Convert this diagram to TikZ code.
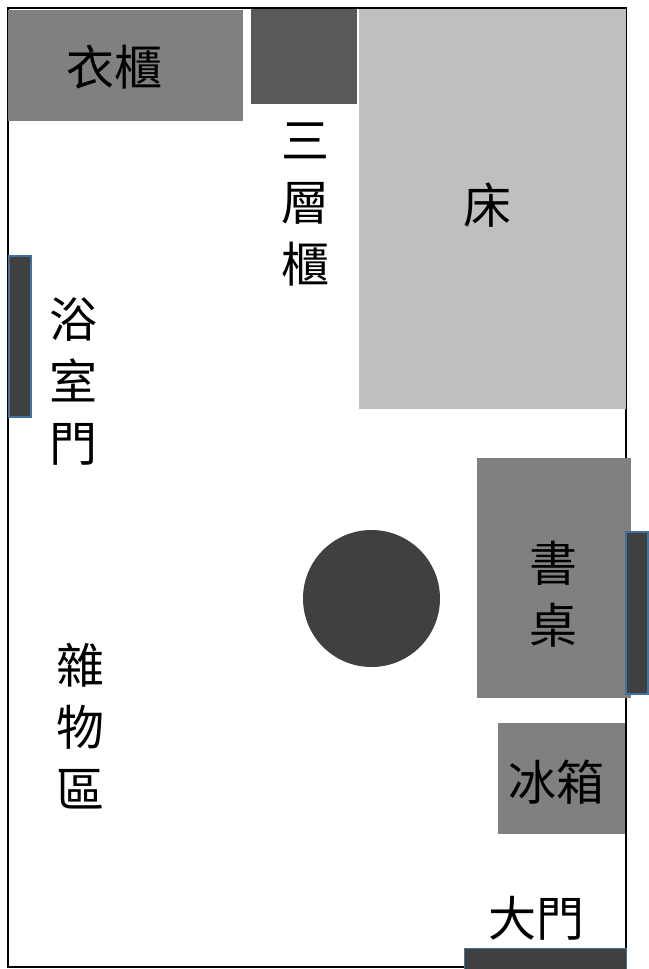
\documentclass[tikz,border=0pt]{standalone}
\usepackage{fontspec}
\newfontfamily\cjk{Noto Sans CJK TC}
\definecolor{midgray}{HTML}{808080}
\definecolor{darkgray2}{HTML}{595959}
\definecolor{lightgray2}{HTML}{BFBFBF}
\definecolor{doorfill}{HTML}{404040}
\definecolor{doorline}{HTML}{41719C}
\tikzset{
  furn/.style={fill=midgray, draw=none},
  doorbox/.style={fill=doorfill, draw=doorline, line width=1.5pt},
  lbl/.style={font=\cjk\fontsize{48}{62}\selectfont, align=center, inner sep=0pt, text=black}
}
\begin{document}
\begin{tikzpicture}[x=1pt,y=-1pt]
\useasboundingbox (0,0) rectangle (648,969);
\fill[white] (0,0) rectangle (648,969);
% room outline
\draw[line width=2pt] (8,8) rectangle (625.5,967);
% furniture
\node[furn, minimum width=235pt, minimum height=111pt, inner sep=0pt, anchor=north west] (wardrobe) at (8,10) {};
\node[fill=darkgray2, minimum width=106pt, minimum height=95pt, inner sep=0pt, anchor=north west] (shelf) at (251,9) {};
\node[fill=lightgray2, minimum width=267pt, minimum height=400pt, inner sep=0pt, anchor=north west] (bed) at (359,9) {};
\node[furn, minimum width=154pt, minimum height=240pt, inner sep=0pt, anchor=north west] (desk) at (477,458) {};
\node[furn, minimum width=127pt, minimum height=111pt, inner sep=0pt, anchor=north west] (fridge) at (498,723) {};
\node[circle, fill=doorfill, minimum size=137pt, inner sep=0pt] (table) at (371.5,598.5) {};
% doors
\node[doorbox, minimum width=22pt, minimum height=161pt, inner sep=0pt, anchor=north west] (bathdoor) at (8,255) {};
\node[doorbox, minimum width=22pt, minimum height=162pt, inner sep=0pt, anchor=north west] (sidedoor) at (625,531) {};
\node[doorbox, minimum width=162pt, minimum height=24pt, inner sep=0pt, anchor=north west] (maindoor) at (463.5,947.5) {};
% labels
\node[lbl] (tw) at (114,67) {衣櫃};
\node[lbl] (ts) at (305,205) {三\\層\\櫃};
\node[lbl] (tb) at (487,205) {床};
\node[lbl] (tbath) at (73,382) {浴\\室\\門};
\node[lbl] (tdesk) at (553,594) {書\\桌};
\node[lbl] (tmisc) at (80,726) {雜\\物\\區};
\node[lbl] (tfr) at (556,782) {冰箱};
\node[lbl] (tmain) at (536,918) {大門};
\end{tikzpicture}
\end{document}
